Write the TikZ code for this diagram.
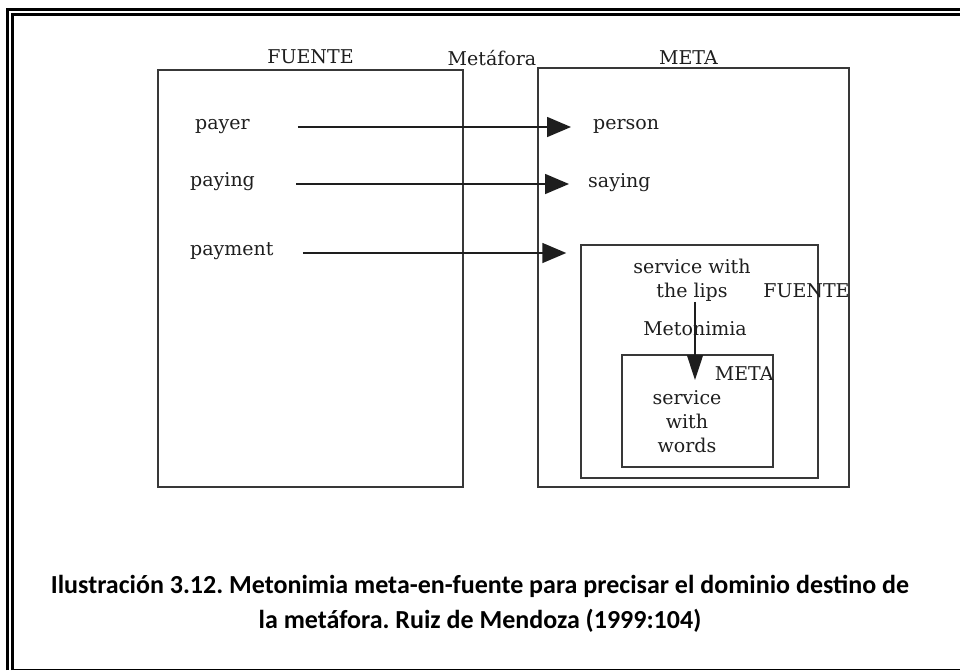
\documentclass[tikz,border=0pt]{standalone}
\usepackage{fontspec}
\setmainfont{DejaVu Serif}
\newfontfamily\capfont{Carlito}
\usetikzlibrary{arrows.meta,positioning,calc}
\definecolor{ink}{HTML}{1E1E1E}
\definecolor{boxline}{HTML}{383838}
\frenchspacing

\begin{document}
\begin{tikzpicture}[x=1pt,y=-1pt,
  domainbox/.style={draw=boxline,line width=1.5pt,inner sep=0pt},
  term/.style={text=ink,font=\fontsize{19}{24}\selectfont,inner sep=0pt,text height=0.75em,text depth=0.25em},
  block/.style={text=ink,font=\fontsize{19}{24}\selectfont,inner sep=0pt,align=center},
  heading/.style={text=ink,font=\fontsize{19}{24}\selectfont,inner sep=0pt},
  maparrow/.style={draw=ink,line width=1.6pt,-{Triangle[length=24pt,width=20pt]}},
  metoarrow/.style={draw=ink,line width=1.6pt,-{Triangle[length=25pt,width=16pt]}},
  captext/.style={font=\capfont\bfseries\fontsize{26}{34}\selectfont,inner sep=0pt,anchor=base}]
  \useasboundingbox (0,0) rectangle (960,670);
  \draw[line width=3pt] (7.5,670) -- (7.5,9.5) -- (960,9.5);
  \draw[line width=3pt] (12.5,670) -- (12.5,14.5) -- (960,14.5);
  \draw[line width=1pt] (12.5,669) -- (960,669);

  \node[domainbox,minimum width=305pt,minimum height=417pt] (fuente) at (310.5,278.5) {};
  \node[domainbox,minimum width=311pt,minimum height=419pt] (meta) at (693.5,277.5) {};
  \node[heading,above=5pt of fuente] (fuentetitle) {FUENTE};
  \node[heading,above=3pt of meta,xshift=-5pt] (metatitle) {META};
  \node[heading,anchor=base] (metafora) at (492,65) {Metáfora};

  \node[term,anchor=west] (payer) at (195,127) {payer};
  \node[term,anchor=west] (paying) at (190,184) {paying};
  \node[term,anchor=west] (payment) at (190,253) {payment};
  \node[term,anchor=west] (person) at (593,127) {person};
  \node[term,anchor=west] (saying) at (588,185) {saying};

  \node[domainbox,minimum width=237pt,minimum height=233pt] (subfuente) at (699.5,361.5) {};
  \node[domainbox,minimum width=151pt,minimum height=112pt] (submeta) at (697.5,411) {};
  \node[block,anchor=north] (lips) at (692,259) {service with\\the lips};
  \node[heading,anchor=base east] (subfuentetitle) at (meta.east |- 0,297) {FUENTE};
  \node[term,anchor=base] (metonimia) at (695,335) {Metonimia};
  \node[heading,anchor=base east] (submetatitle) at (submeta.east |- 0,380) {META};
  \node[block,anchor=north] (words) at (687,390) {service\\with\\words};

  \foreach \src/\dst/\gap/\cut in {payer/person/48/22,paying/saying/41/19,payment/subfuente/29/14}
    \draw[maparrow,shorten <=\gap pt,shorten >=\cut pt] (\src.east) -- (\src.east -| \dst.west);
  \coordinate (metotip) at (695,380);
  \draw[metoarrow] (lips.south -| metotip) -- (metotip);

  \node[captext] (caption) at (480,593) {Ilustración 3.12. Metonimia meta-en-fuente para precisar el dominio destino de};
  \node[captext] (captiontail) at (480,628) {la metáfora. Ruiz de Mendoza (1999:104)};
\end{tikzpicture}
\end{document}
